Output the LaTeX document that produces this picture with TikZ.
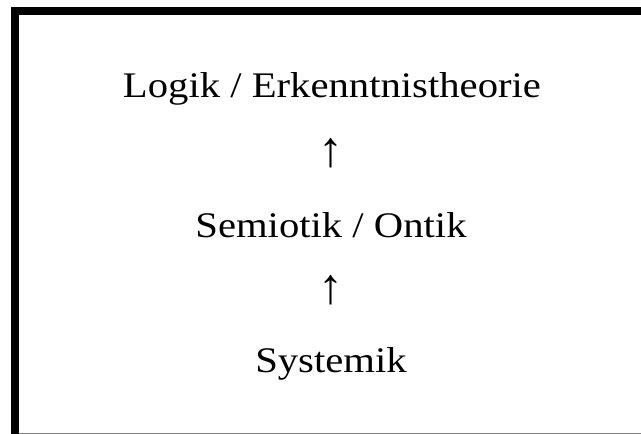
\documentclass[tikz,border=0pt]{standalone}
\usepackage{fontspec}
\setmainfont[FakeStretch=1.13]{Liberation Serif}
\newfontfamily\arrfont{Liberation Serif}
\begin{document}
\begin{tikzpicture}[x=1pt,y=-1pt,
  lbl/.style={anchor=base,inner sep=0pt,font=\fontsize{36}{40}\selectfont},
  arr/.style={anchor=base,inner sep=0pt,font=\arrfont\fontsize{50}{54}\selectfont},
  bar/.style={fill=black,draw=none}]
\useasboundingbox (0,0) rectangle (641,434);
\fill[white] (0,0) rectangle (641,434);
\fill[bar] (11,7) rectangle (641,15);
\fill[bar] (11,7) rectangle (19,434);
\draw[gray,line width=1pt] (19,433.5) -- (641,433.5);
\node[lbl] (l1) at (332,97) {Logik / Erkenntnistheorie};
\node[arr] (a1) at (331,166) {↑};
\node[lbl] (l2) at (331,237) {Semiotik / Ontik};
\node[arr] (a2) at (331,303) {↑};
\node[lbl] (l3) at (331,372) {Systemik};
\end{tikzpicture}
\end{document}
